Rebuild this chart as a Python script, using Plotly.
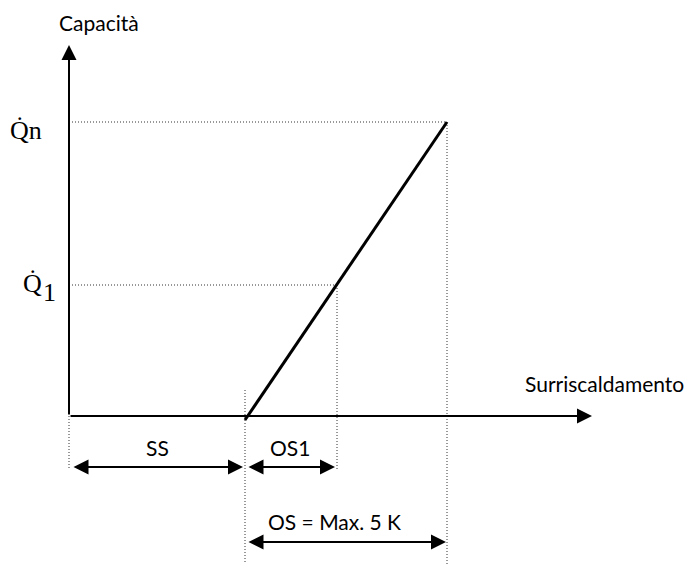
import plotly.graph_objects as go

# Schematic values (chart units; origin = 0)
x_ss_end = 176        # end of SS (start of overheat line)
x_os1_end = 268       # end of OS1
x_os_end = 378        # end of OS (Max. 5 K)
y_q1 = 131            # Q1 capacity
y_qn = 294            # Qn capacity
x_axis_end = 523
y_axis_end = 371
y_arrow_ss = -51
y_arrow_os = -126
y_drop_small = -54
y_drop_big = -148

dot_col = "#333333"
fig = go.Figure()

def dotted(xs, ys):
    fig.add_trace(go.Scatter(x=xs, y=ys, mode="lines",
                             line=dict(color=dot_col, width=1, dash="1px,2px"),
                             hoverinfo="skip", showlegend=False))

# dotted guide lines
dotted([0, x_os_end], [y_qn, y_qn])
dotted([0, x_os1_end], [y_q1, y_q1])
dotted([0, 0], [0, y_drop_small])
dotted([x_ss_end, x_ss_end], [26, y_drop_big])
dotted([x_os1_end, x_os1_end], [y_q1, y_drop_small])
dotted([x_os_end, x_os_end], [y_qn, y_drop_big])

# capacity line
fig.add_trace(go.Scatter(x=[x_ss_end, x_os_end], y=[-4, y_qn], mode="lines",
                         line=dict(color="black", width=3),
                         hoverinfo="skip", showlegend=False))

ann = []
def arrow(x0, y0, x1, y1, both=False, width=2):
    ann.append(dict(x=x1, y=y1, ax=x0, ay=y0, xref="x", yref="y", axref="x", ayref="y",
                    text="", showarrow=True, arrowhead=2, arrowsize=1.5, arrowwidth=width,
                    arrowcolor="black", arrowside="end+start" if both else "end",
                    startarrowhead=2, startarrowsize=1.5))

# axes
arrow(0, 0, 0, y_axis_end)
arrow(0, 0, x_axis_end, 0)
# dimension arrows
arrow(3, y_arrow_ss, x_ss_end - 2, y_arrow_ss, both=True)
arrow(x_ss_end + 2, y_arrow_ss, x_os1_end - 2, y_arrow_ss, both=True)
arrow(x_ss_end + 2, y_arrow_os, x_os_end - 1, y_arrow_os, both=True)

sans = dict(family="Lato", size=21, color="black")
serif = dict(family="Liberation Serif", size=26, color="black")
def label(x, y, t, font, xa="center"):
    ann.append(dict(x=x, y=y, xref="x", yref="y", text=t, showarrow=False,
                    font=font, xanchor=xa, yanchor="middle"))

label(-12, 394, "Capacità", sans, "left")
label(454, 33, "Surriscaldamento", sans, "left")
label(88, -31, "SS", sans)
label(221, -31, "OS1", sans)
label(265, -105, "OS = Max. 5 K", sans)
label(-43, 286, "Q\u0307n", serif)
label(-37, 133, "Q\u0307", serif)
label(-20, 124, "1", serif)

fig.update_layout(
    width=689, height=559, margin=dict(l=0, r=0, t=0, b=0),
    paper_bgcolor="white", plot_bgcolor="white",
    xaxis=dict(range=[-61, 628], visible=False, fixedrange=True),
    yaxis=dict(range=[-151, 408], visible=False, fixedrange=True),
    annotations=ann, showlegend=False,
)
fig.write_html("out.html")
